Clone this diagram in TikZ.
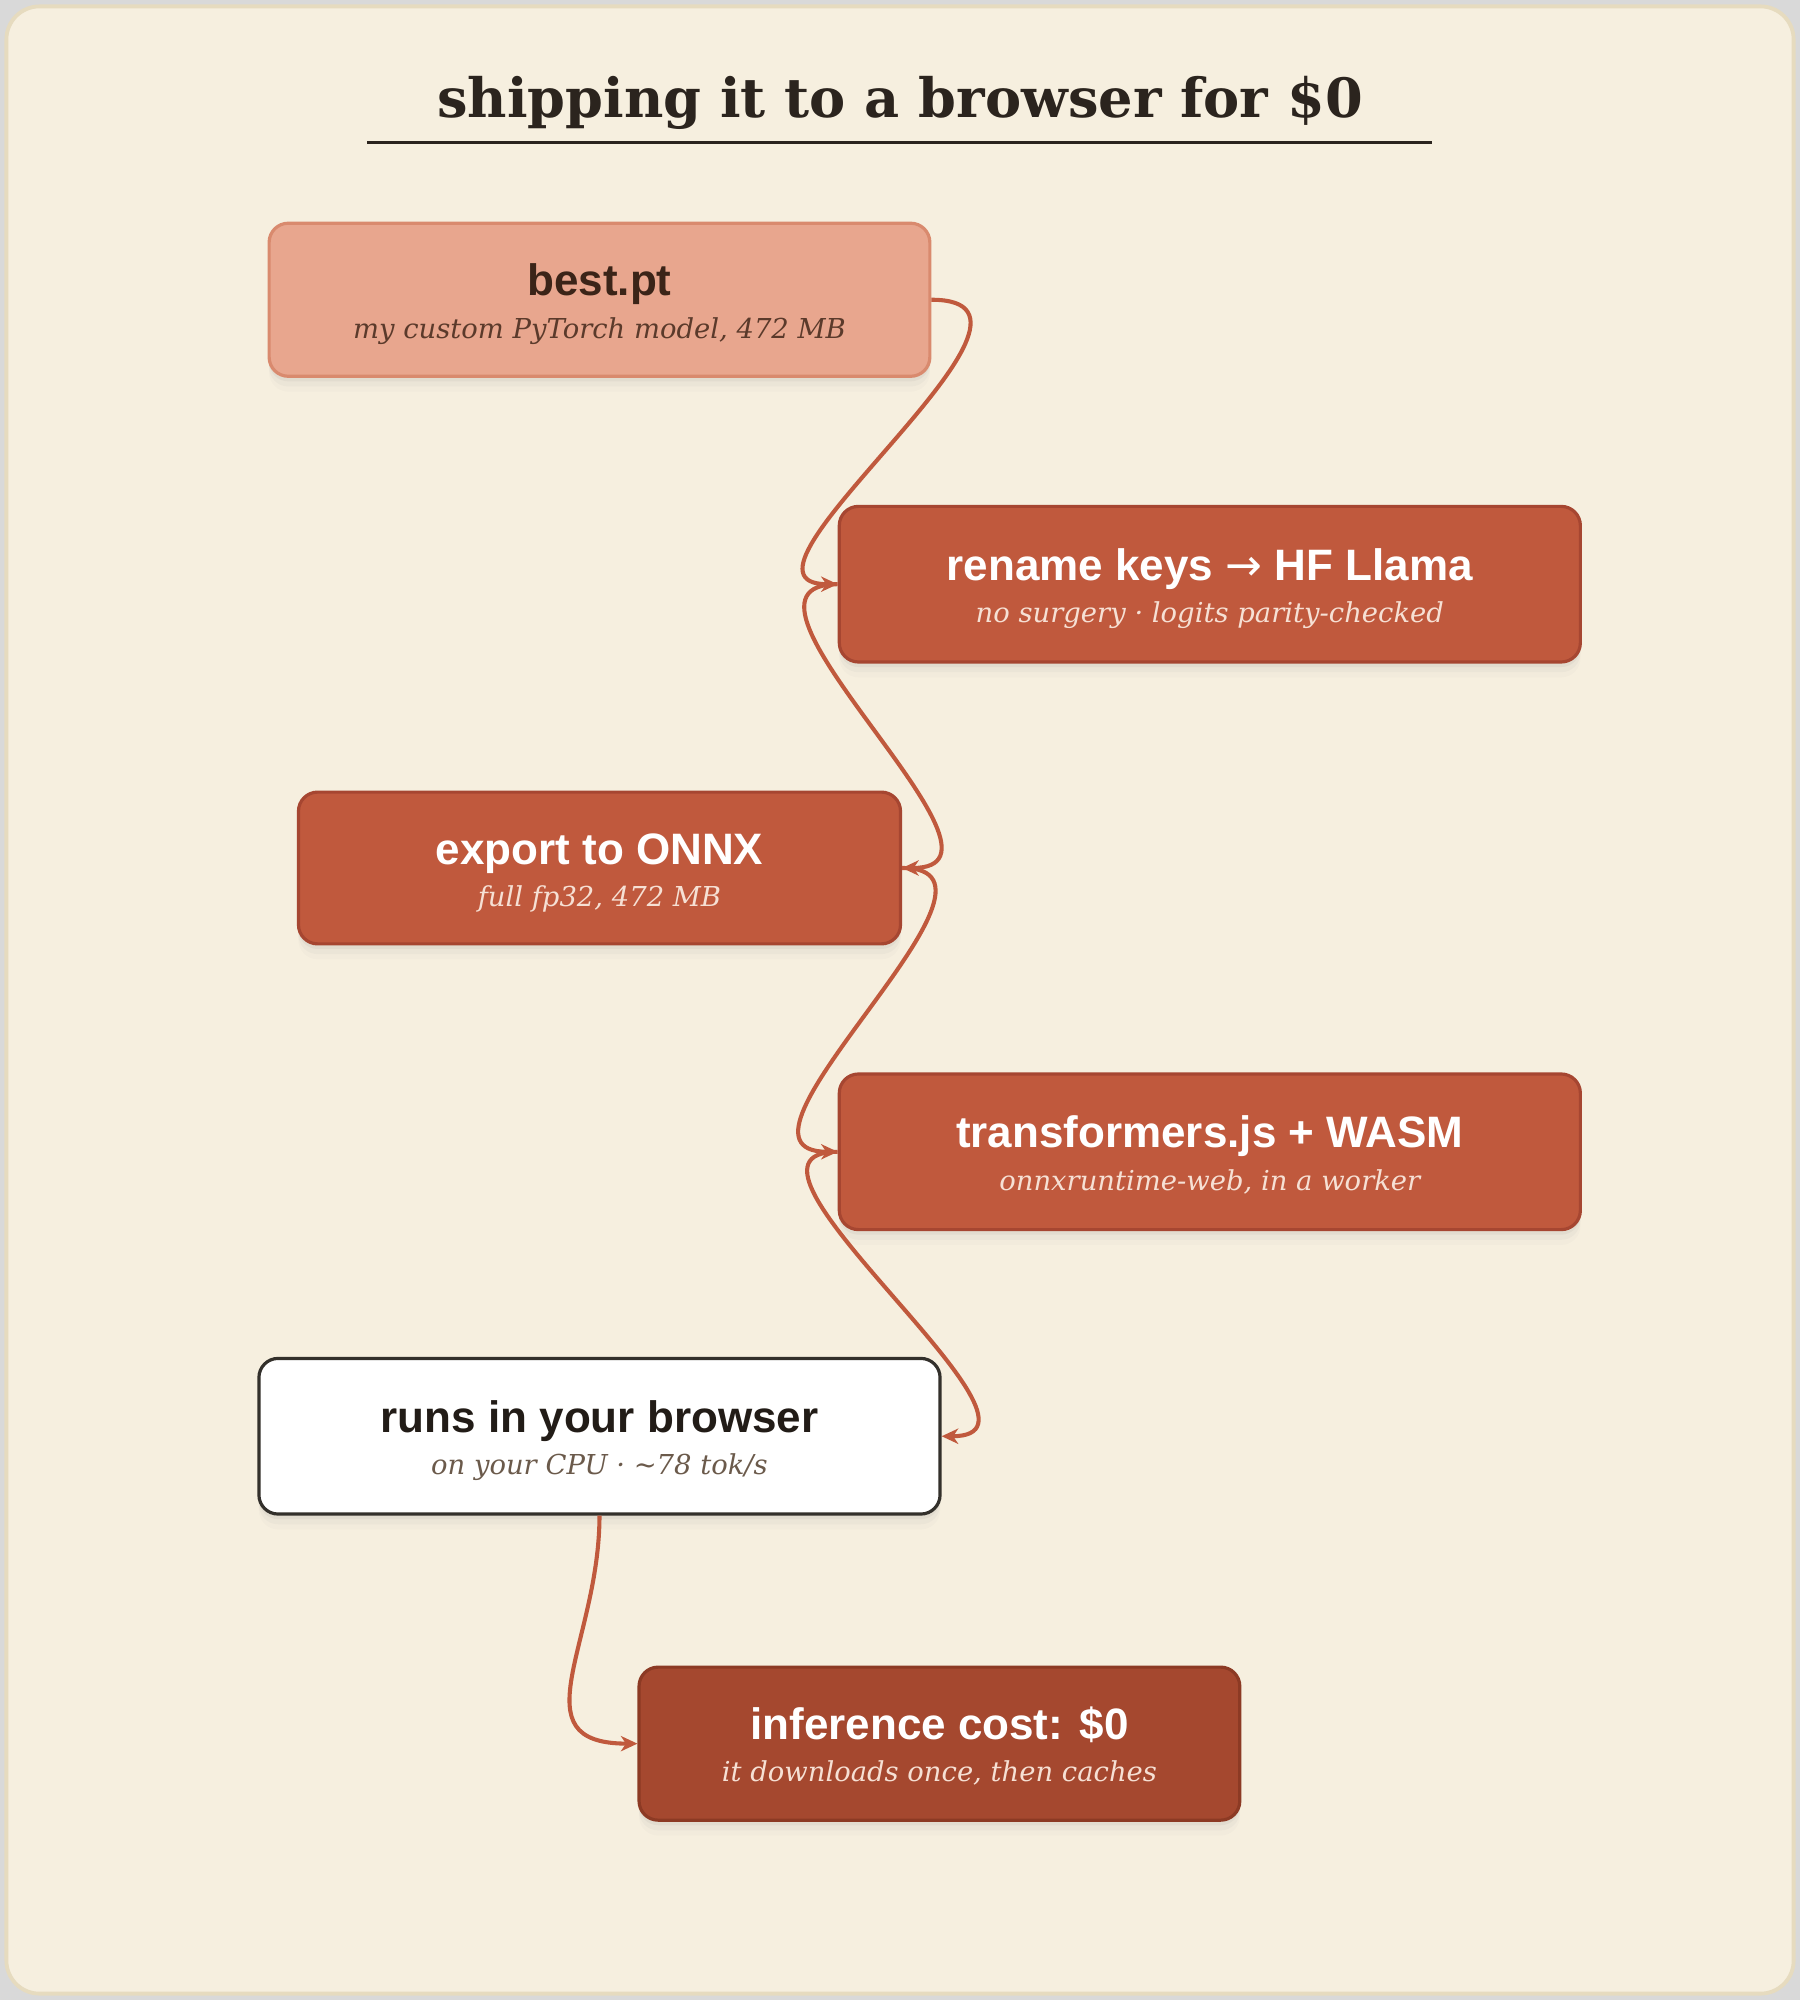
\documentclass[tikz,border=0pt]{standalone}
\usepackage{fontspec}
\setmainfont{DejaVu Serif}
\setsansfont{Liberation Sans}
\newfontfamily\arrowfont{DejaVu Sans}
\usetikzlibrary{arrows.meta,shadows}
\definecolor{outerbg}{HTML}{D9D9D9}
\definecolor{panelfill}{HTML}{F6EFDF}
\definecolor{panelline}{HTML}{E6DBBF}
\definecolor{ink}{HTML}{2B241E}
\definecolor{acc}{HTML}{C0593D}
\definecolor{accline}{HTML}{A64631}
\definecolor{pinkfill}{HTML}{E8A68E}
\definecolor{pinkline}{HTML}{D98A6E}
\definecolor{pinkttl}{HTML}{3B2418}
\definecolor{pinksub}{HTML}{5B3A2B}
\definecolor{lightsub}{HTML}{F6E0D4}
\definecolor{darkfill}{HTML}{A5482F}
\definecolor{darkline}{HTML}{8C3A24}
\definecolor{whiteline}{HTML}{33302B}
\definecolor{whitettl}{HTML}{221C17}
\definecolor{whitesub}{HTML}{6B5A4B}
\begin{document}
\begin{tikzpicture}[x=1pt,y=-1pt,
  box/.style={rectangle, rounded corners=15pt, line width=2.5pt, inner sep=0pt,
    drop shadow={shadow xshift=0pt, shadow yshift=-4pt, opacity=0.08},
    drop shadow={shadow xshift=0pt, shadow yshift=-8pt, opacity=0.05},
    drop shadow={shadow xshift=0pt, shadow yshift=-12pt, opacity=0.03}},
  accbox/.style={box, fill=acc, draw=accline},
  ttl/.style={anchor=base, inner sep=0pt, font=\sffamily\bfseries\fontsize{34.5}{40}\selectfont},
  sub/.style={anchor=base, inner sep=0pt, font=\itshape\fontsize{21.5}{26}\selectfont},
  conn/.style={draw=acc, line width=3.2pt, -{Stealth[length=13pt,width=12pt,inset=4pt]}}
]
\useasboundingbox (0,0) rectangle (1411.2,1568);
\fill[outerbg] (0,0) rectangle (1411.2,1568);
\draw[fill=panelfill, draw=panelline, line width=3pt, rounded corners=26pt] (5,5) rectangle (1406.2,1563);

% title
\node[anchor=base, inner sep=0pt, text=ink, font=\bfseries\fontsize{42.5}{48}\selectfont] (title) at (705.6,92) {shipping it to a browser for \$0};
\coordinate (ulA) at (288,112);
\coordinate (ulB) at (1123,112);
\draw[ink, line width=2.5pt] (ulA) -- (ulB);

% boxes
\node[box, fill=pinkfill, draw=pinkline, minimum width=518pt, minimum height=120pt] (best) at (470,235) {};
\node[accbox, minimum width=581pt, minimum height=122pt] (rename) at (948.5,458) {};
\node[accbox, minimum width=472pt, minimum height=119pt] (onnx) at (470,680.5) {};
\node[accbox, minimum width=581pt, minimum height=122pt] (tjs) at (948.5,903) {};
\node[box, fill=white, draw=whiteline, minimum width=534pt, minimum height=122pt] (runs) at (470,1126) {};
\node[box, fill=darkfill, draw=darkline, minimum width=471pt, minimum height=120pt] (cost) at (736.5,1367) {};

% texts
\node[ttl, text=pinkttl] (bestT) at ([yshift=3pt]best.center) {best.pt};
\node[sub, text=pinksub] (bestS) at ([yshift=-30pt]best.center) {my custom PyTorch model, 472 MB};
\node[ttl, text=white] (renameT) at ([yshift=3pt]rename.center) {rename keys {\arrowfont\fontseries{m}\selectfont →} HF Llama};
\node[sub, text=lightsub] (renameS) at ([yshift=-30pt]rename.center) {no surgery · logits parity-checked};
\node[ttl, text=white] (onnxT) at ([yshift=3pt]onnx.center) {export to ONNX};
\node[sub, text=lightsub] (onnxS) at ([yshift=-30pt]onnx.center) {full fp32, 472 MB};
\node[ttl, text=white] (tjsT) at ([yshift=3pt]tjs.center) {transformers.js + WASM};
\node[sub, text=lightsub] (tjsS) at ([yshift=-30pt]tjs.center) {onnxruntime-web, in a worker};
\node[ttl, text=whitettl] (runsT) at ([yshift=3pt]runs.center) {runs in your browser};
\node[sub, text=whitesub] (runsS) at ([yshift=-30pt]runs.center) {on your CPU · \textasciitilde78 tok/s};
\node[ttl, text=white] (costT) at ([yshift=3pt]cost.center) {inference cost: \$0};
\node[sub, text=lightsub] (costS) at ([yshift=-30pt]cost.center) {it downloads once, then caches};

% connectors
\draw[conn] (best.east) .. controls +(125,0) and +(-105,0) .. (rename.west);
\draw[conn] (rename.west) .. controls +(-108,0) and +(108,0) .. (onnx.east);
\draw[conn] (onnx.east) .. controls +(108,0) and +(-108,0) .. (tjs.west);
\draw[conn] (tjs.west) .. controls +(-108,0) and +(108,0) .. (runs.east);
\draw[conn] (runs.south) .. controls +(0,100) and +(-95,0) .. (cost.west);
\end{tikzpicture}
\end{document}
